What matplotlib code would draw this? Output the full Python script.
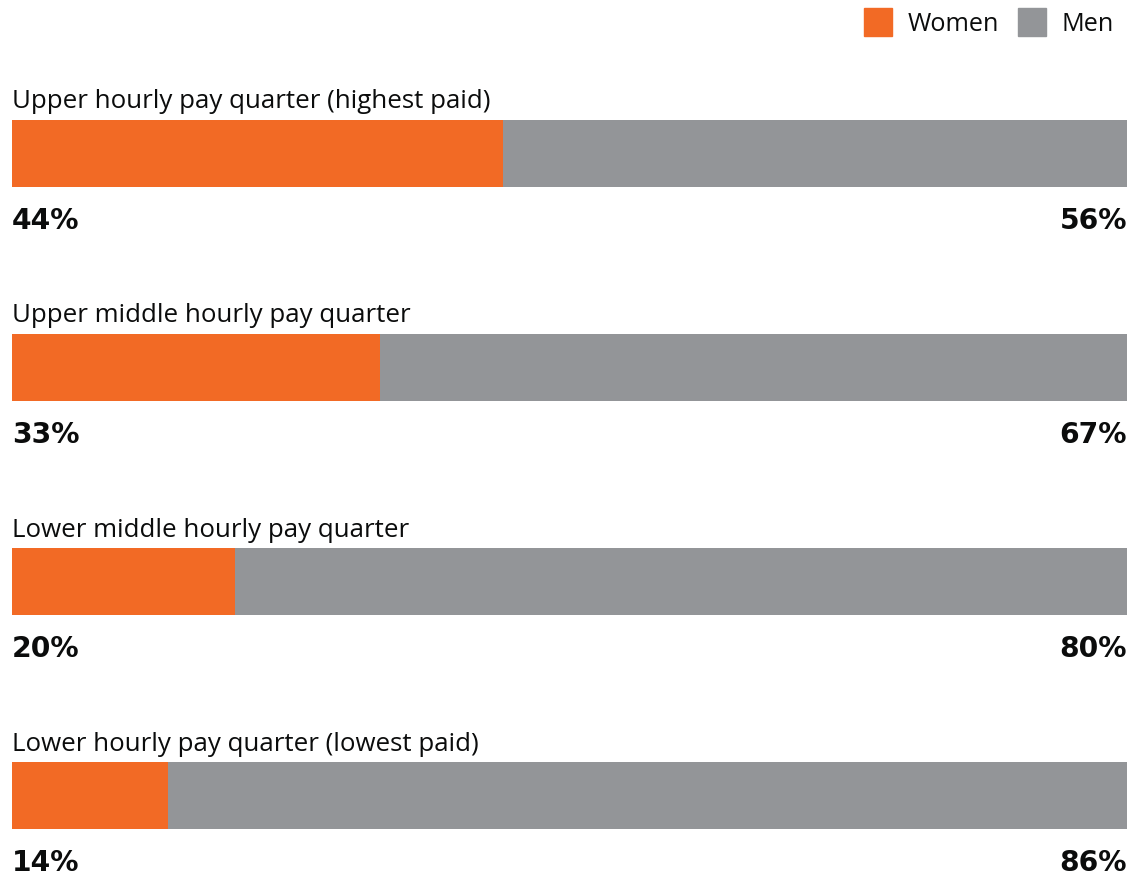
import matplotlib.pyplot as plt
from matplotlib.patches import Patch

categories = ['Upper hourly pay quarter (highest paid)',
              'Upper middle hourly pay quarter',
              'Lower middle hourly pay quarter',
              'Lower hourly pay quarter (lowest paid)']
women = [44, 33, 20, 14]
men = [56, 67, 80, 86]

orange = '#F26A25'
grey = '#939598'
ink = '#0b0c0c'

plt.rcParams['font.family'] = ['Open Sans', 'DejaVu Sans']

fig = plt.figure(figsize=(11.34, 8.79), dpi=100)
ax = fig.add_axes([12 / 1134, 0, 1115 / 1134, 1])

ypos = list(range(len(categories)))
ax.barh(ypos, women, height=0.313, color=orange)
ax.barh(ypos, men, left=women, height=0.313, color=grey)

# percentages use a wider bold face, closer to the original
pct_font = dict(family='DejaVu Sans', fontsize=20.3, fontweight='bold', color=ink)
for y, cat, w, m in zip(ypos, categories, women, men):
    ax.text(0, y - 0.245, cat, ha='left', va='center', fontsize=18.6, color=ink)
    ax.text(0, y + 0.31, f'{w}%', ha='left', va='center', **pct_font)
    ax.text(100, y + 0.31, f'{m}%', ha='right', va='center', **pct_font)

ax.set_xlim(0, 100)
ax.set_ylim(3.383, -0.719)
ax.axis('off')

handles = [Patch(color=orange, label='Women'), Patch(color=grey, label='Men')]
fig.legend(handles=handles, loc='upper right',
           bbox_to_anchor=(1114 / 1134, 1 - 9 / 879),
           ncol=2, frameon=False, fontsize=18.2, handlelength=1.1,
           handleheight=1.3, handletextpad=0.62, columnspacing=0.78,
           borderpad=0, borderaxespad=0, labelcolor=ink)

fig.savefig('out.png', dpi=100, facecolor='white')
